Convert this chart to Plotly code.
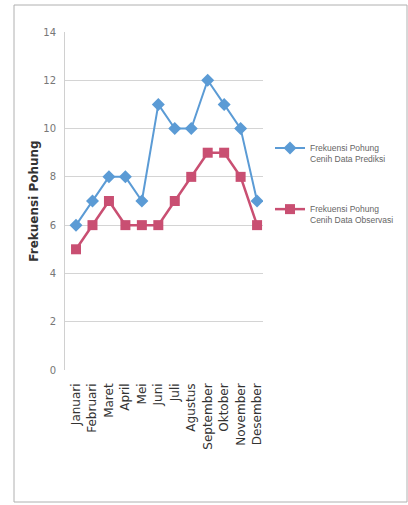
import plotly.graph_objects as go

months = ["Januari", "Februari", "Maret", "April", "Mei", "Juni", "Juli",
          "Agustus", "September", "Oktober", "November", "Desember"]
prediksi = [6, 7, 8, 8, 7, 11, 10, 10, 12, 11, 10, 7]
observasi = [5, 6, 7, 6, 6, 6, 7, 8, 9, 9, 8, 6]
name_pred = "Frekuensi Pohung<br>Cenih Data Prediksi"
name_obs = "Frekuensi Pohung<br>Cenih Data Observasi"
y_title = "Frekuensi Pohung"
y_ticks = [0, 2, 4, 6, 8, 10, 12, 14]

fig = go.Figure()
fig.add_trace(go.Scatter(
    x=months, y=prediksi, name=name_pred, mode="lines+markers",
    legendgroup="pred",
    line=dict(color="#5b9bd5", width=2),
    marker=dict(symbol="diamond", size=10, color="#5b9bd5"),
))
fig.add_trace(go.Scatter(
    x=months, y=observasi, name=name_obs, mode="lines+markers",
    legendgroup="obs",
    line=dict(color="#c94f72", width=2.5),
    marker=dict(symbol="square", size=10, color="#c94f72"),
))

L, R, T, B = 65, 263, 32, 370
W, H = R - L, B - T

def px_x(p):
    return (p - L) / W

def px_y(p):
    return (B - p) / H

fig.add_shape(type="rect", xref="paper", yref="paper",
              x0=px_x(14), x1=px_x(407), y0=px_y(502), y1=px_y(5),
              line=dict(color="#b0b0b0", width=1), layer="below")

fig.update_layout(
    width=408, height=505,
    margin=dict(l=L, r=408 - R, t=T, b=505 - B, autoexpand=False),
    paper_bgcolor="white", plot_bgcolor="white",
    font=dict(family="DejaVu Sans", color="#444"),
    showlegend=True,
    legend=dict(x=px_x(270), y=px_y(136), xanchor="left", yanchor="top",
                valign="top", tracegroupgap=36,
                font=dict(size=8.5, color="#666", family="Liberation Sans"),
                itemwidth=30, bgcolor="rgba(0,0,0,0)"),
)
fig.update_xaxes(
    type="category", range=[-0.67, 11.36],
    showgrid=False, showline=False, zeroline=False,
    tickangle=-90, tickfont=dict(size=12, color="#333"),
    ticklabelstandoff=10,
)
fig.update_yaxes(
    range=[0, 14], tickvals=y_ticks,
    showgrid=True, gridcolor="#d4d4d4", gridwidth=1,
    showline=True, linecolor="#d0d0d0", zeroline=False,
    tickfont=dict(size=10, color="#777"),
    ticklabelstandoff=6,
    title=dict(text=y_title, font=dict(size=12, color="#333", family="DejaVu Sans", weight="bold"),
               standoff=2),
)

fig.write_html("out.html")
